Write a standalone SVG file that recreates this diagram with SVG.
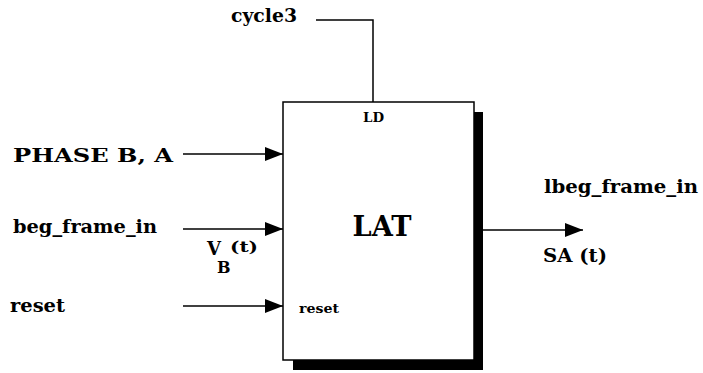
<svg xmlns="http://www.w3.org/2000/svg" width="703" height="373" viewBox="0 0 703 373">
<style>
.t{font-family:"DejaVu Serif","Liberation Serif",serif;font-weight:bold;fill:#000}
.l{font-size:18px}
.s{font-size:13px}
.w{stroke:#000;stroke-width:1.5;fill:none}
</style>
<defs>
<marker id="ah" markerWidth="18" markerHeight="14" refX="18" refY="7" orient="auto" markerUnits="userSpaceOnUse">
<path d="M0,0 L18,7 L0,14 Z" fill="#000"/>
</marker>
</defs>
<rect width="703" height="373" fill="#fff"/>
<g id="connectors">
<polyline class="w" points="316,20 373,20 373,102"/>
<line class="w" x1="183" y1="154" x2="283" y2="154" marker-end="url(#ah)"/>
<line class="w" x1="183" y1="229" x2="283" y2="229" marker-end="url(#ah)"/>
<line class="w" x1="183" y1="306" x2="283" y2="306" marker-end="url(#ah)"/>
<line class="w" x1="483" y1="230" x2="583" y2="230" marker-end="url(#ah)"/>
</g>
<g id="LAT">
<rect x="293" y="112" width="190" height="258" fill="#000"/>
<rect x="283" y="102" width="191" height="258" fill="#fff" stroke="#000" stroke-width="1.5"/>
<text class="t" x="382" y="236" font-size="27" text-anchor="middle" textLength="59" lengthAdjust="spacingAndGlyphs">LAT</text>
<text class="t s" x="363" y="122" textLength="21" lengthAdjust="spacingAndGlyphs">LD</text>
<text class="t s" x="299" y="313" textLength="40" lengthAdjust="spacingAndGlyphs">reset</text>
</g>
<g id="cycle3"><text class="t l" x="231" y="22" textLength="66" lengthAdjust="spacingAndGlyphs">cycle3</text></g>
<g id="phase"><text class="t l" x="13" y="162" textLength="160" lengthAdjust="spacingAndGlyphs">PHASE B, A</text></g>
<g id="beg_frame_in"><text class="t l" x="13" y="233" textLength="144" lengthAdjust="spacingAndGlyphs">beg_frame_in</text></g>
<g id="reset"><text class="t l" x="10" y="312" textLength="55" lengthAdjust="spacingAndGlyphs">reset</text></g>
<g id="vb">
<text class="t" x="207" y="255" font-size="18">V</text>
<text class="t" x="217" y="273" font-size="16">B</text>
<text class="t" x="230" y="252" font-size="14" textLength="28" lengthAdjust="spacingAndGlyphs">(t)</text>
</g>
<g id="lbeg_frame_in"><text class="t l" x="544" y="193" textLength="154" lengthAdjust="spacingAndGlyphs">lbeg_frame_in</text></g>
<g id="sa"><text class="t l" x="543" y="262" textLength="64" lengthAdjust="spacingAndGlyphs">SA (t)</text></g>
</svg>
